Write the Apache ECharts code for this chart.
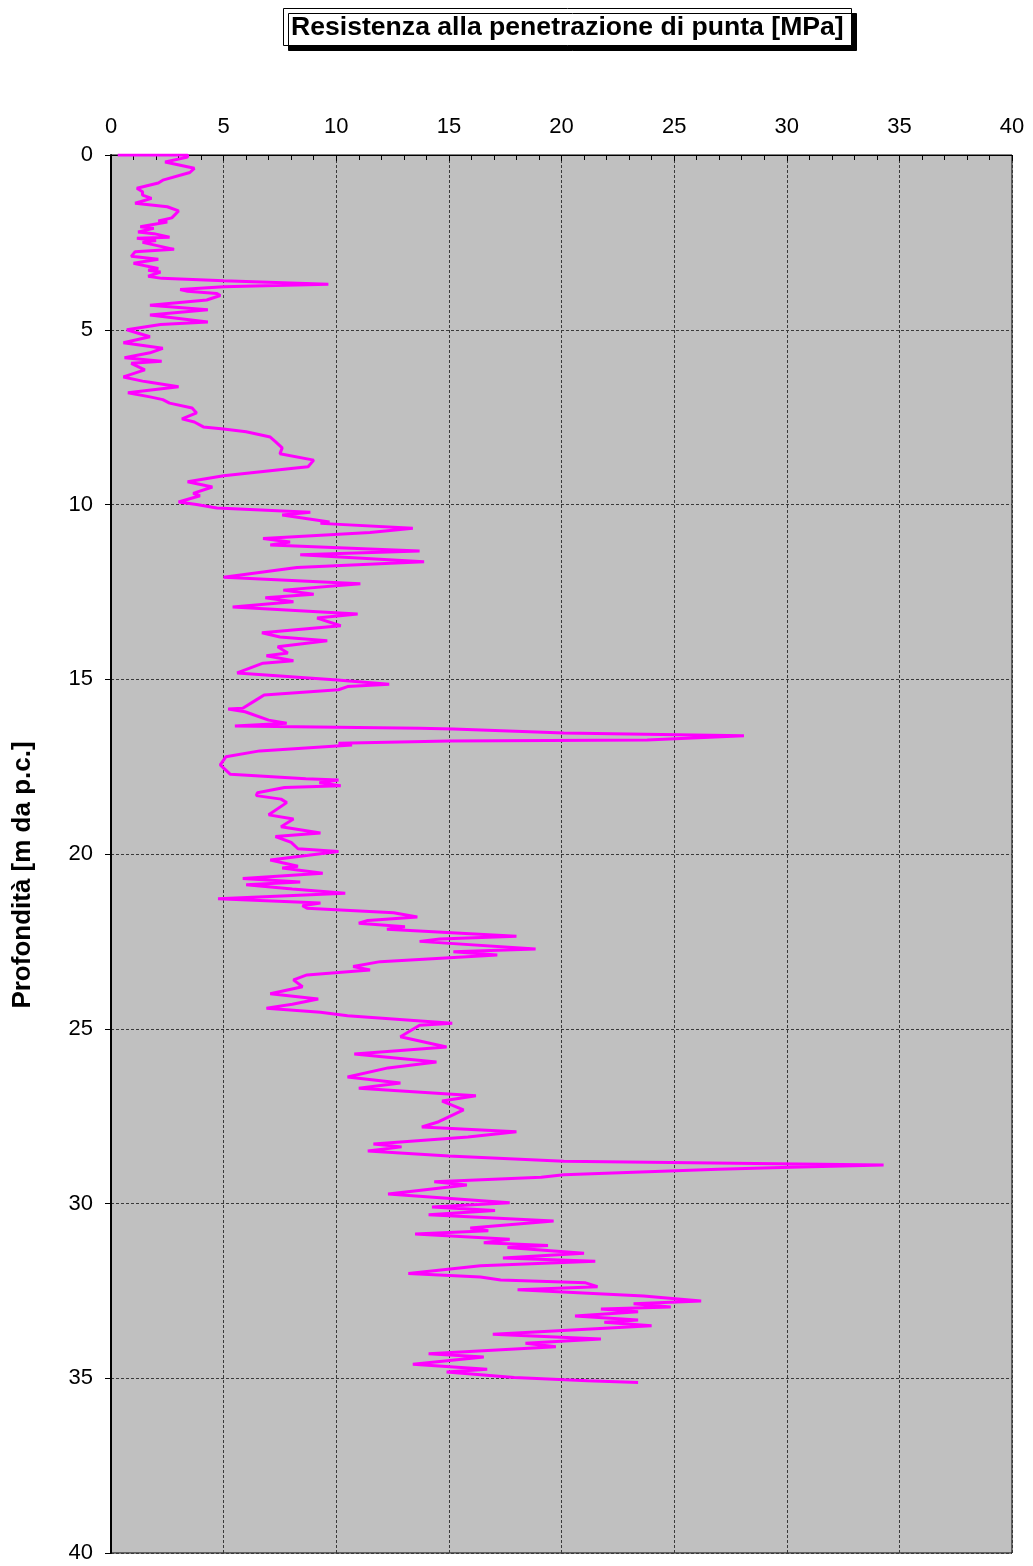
<!DOCTYPE html>
<html>
<head>
<meta charset="utf-8">
<script src="https://cdn.jsdelivr.net/npm/echarts@6/dist/echarts.min.js"></script>
<style>html,body{margin:0;padding:0;background:#fff}#c{width:1033px;height:1566px}</style>
</head>
<body>
<div id="c"></div>
<script>
// Depth [m] and cone tip resistance qc [MPa]
var depth = [0.0,0.0,0.06,0.2,0.38,0.5,0.72,0.8,0.95,1.05,1.15,1.24,1.38,1.48,1.6,1.8,1.89,1.92,2.05,2.1,2.2,2.25,2.35,2.38,2.45,2.5,2.7,2.77,2.9,2.98,3.1,3.25,3.3,3.35,3.47,3.53,3.6,3.7,3.77,3.85,3.9,3.96,4.02,4.15,4.3,4.43,4.58,4.78,4.85,5.0,5.2,5.37,5.53,5.66,5.8,5.9,5.96,6.15,6.35,6.47,6.5,6.63,6.8,6.92,7.0,7.1,7.24,7.38,7.55,7.64,7.78,7.84,7.92,8.07,8.2,8.38,8.55,8.73,8.92,8.96,9.18,9.35,9.5,9.68,9.75,9.93,10.0,10.1,10.22,10.3,10.5,10.54,10.68,10.8,10.97,11.07,11.16,11.33,11.44,11.64,11.8,12.08,12.27,12.45,12.57,12.67,12.78,12.93,13.13,13.25,13.47,13.67,13.79,13.9,14.07,14.25,14.33,14.47,14.54,14.82,15.02,15.14,15.21,15.3,15.45,15.59,15.83,15.85,15.93,16.17,16.26,16.34,16.4,16.42,16.54,16.62,16.74,16.77,16.83,16.88,17.05,17.22,17.45,17.72,17.85,17.88,17.96,18.05,18.1,18.25,18.33,18.43,18.53,18.88,19.0,19.22,19.4,19.5,19.67,19.85,19.93,20.17,20.35,20.4,20.55,20.7,20.8,20.88,21.0,21.12,21.28,21.4,21.48,21.55,21.68,21.8,21.9,21.98,22.08,22.15,22.35,22.43,22.5,22.72,22.8,22.89,23.08,23.22,23.32,23.46,23.6,23.8,24.0,24.15,24.3,24.41,24.53,24.63,24.77,24.84,24.9,25.23,25.52,25.72,25.95,26.12,26.38,26.55,26.7,26.92,27.07,27.32,27.66,27.81,27.95,28.1,28.3,28.38,28.5,28.64,28.79,28.9,28.96,29.02,29.18,29.25,29.38,29.47,29.73,29.98,30.1,30.2,30.32,30.5,30.7,30.78,30.87,31.02,31.12,31.2,31.26,31.42,31.56,31.65,31.78,32.0,32.1,32.19,32.27,32.38,32.47,32.65,32.79,32.87,32.96,33.02,33.1,33.22,33.33,33.4,33.5,33.74,33.88,34.0,34.1,34.3,34.39,34.6,34.74,34.82,34.98,35.07,35.12];
var qc = [0.3,3.4,3.4,2.4,3.7,3.5,2.3,2.1,1.15,1.4,1.4,1.8,1.07,2.5,3.0,2.7,2.1,2.5,1.3,1.9,1.2,1.9,2.6,1.15,2.0,1.4,2.8,1.07,0.9,2.1,1.0,2.1,1.65,2.2,1.65,2.25,5.0,9.65,5.0,3.07,3.4,4.7,4.85,4.25,1.73,4.3,1.73,4.3,2.2,0.7,1.73,0.55,2.3,1.73,0.6,2.25,0.9,1.5,0.55,1.4,1.73,3.0,0.75,1.73,2.3,2.6,3.6,3.8,3.15,3.7,4.1,5.0,6.0,7.07,7.3,7.6,7.5,9.0,8.75,8.1,5.0,3.4,4.5,3.65,3.95,3.0,3.8,4.7,8.85,7.6,9.7,9.3,13.4,11.5,6.75,7.95,7.07,13.7,8.4,13.9,8.25,5.0,11.07,7.65,9.0,6.85,8.1,5.4,10.95,9.15,10.2,6.7,7.5,9.6,7.4,7.85,6.9,8.1,6.75,5.6,10.05,12.35,10.5,10.1,6.8,6.45,5.85,5.2,5.95,7.0,7.8,5.5,13.7,15.2,20.1,28.1,23.8,15.0,10.1,10.7,6.6,5.1,4.85,5.3,8.65,10.1,9.25,10.2,7.7,6.5,6.45,7.55,7.8,7.0,8.1,7.55,9.3,7.3,8.0,8.3,10.1,7.07,8.3,7.6,9.4,5.85,8.4,6.0,8.05,10.4,4.75,9.3,8.5,8.7,12.55,13.6,11.4,11.0,13.05,12.25,18.0,14.6,13.7,18.85,15.2,17.15,11.95,10.75,11.5,8.7,8.1,8.5,7.07,9.2,8.05,6.9,9.3,10.5,13.6,15.15,13.7,12.85,14.9,10.8,14.45,12.3,10.5,12.85,11.0,16.2,14.7,15.65,14.55,13.8,18.0,15.85,11.65,12.9,11.4,15.0,20.1,34.3,30.2,26.95,20.1,19.1,14.35,15.8,12.3,17.7,14.25,17.05,14.1,19.65,15.95,16.75,13.5,17.7,16.55,19.4,17.6,21.0,17.4,21.5,16.4,13.2,16.4,17.3,21.07,21.6,18.05,23.65,26.2,23.2,24.85,21.75,23.4,20.6,23.4,21.9,24.0,16.95,21.75,18.4,19.75,14.1,16.55,13.4,16.7,14.9,17.9,21.15,23.4];
var xTicks = [0,5,10,15,20,25,30,35,40];
var yTicks = [0,5,10,15,20,25,30,35,40];
var titleText = 'Resistenza alla penetrazione di punta [MPa]';
var yName = 'Profondità [m da p.c.]';

var data = depth.map(function (d, i) { return [qc[i], d]; });
var FONT = 'Liberation Sans, Arial, sans-serif';

var chart = echarts.init(document.getElementById('c'), null, {renderer: 'canvas'});
chart.setOption({
  backgroundColor: '#ffffff',
  animation: false,
  title: {
    text: titleText,
    left: 283, top: 8,
    padding: [6, 8, 5, 8],
    backgroundColor: '#ffffff',
    borderColor: '#000000', borderWidth: 1,
    shadowColor: '#000000', shadowBlur: 0, shadowOffsetX: 5, shadowOffsetY: 5,
    textStyle: {fontFamily: FONT, fontWeight: 'bold', fontSize: 26.6, color: '#000'}
  },
  grid: {
    left: 111, top: 155, width: 901, height: 1398,
    show: true, backgroundColor: '#c0c0c0', borderColor: '#000', borderWidth: 1
  },
  xAxis: {
    type: 'value', position: 'top', min: xTicks[0], max: xTicks[xTicks.length - 1], interval: 5,
    axisLine: {show: true, lineStyle: {color: '#000', width: 1}},
    axisTick: {show: true, inside: true, length: 6, lineStyle: {color: '#000'}},
    minorTick: {show: true, splitNumber: 5, length: 5, lineStyle: {color: '#000'}},
    axisLabel: {fontFamily: FONT, fontSize: 22, color: '#000', margin: 17},
    splitLine: {show: true, lineStyle: {color: '#3a3a3a', type: [3, 2], width: 1}}
  },
  yAxis: {
    type: 'value', inverse: true, min: yTicks[0], max: yTicks[yTicks.length - 1], interval: 5,
    axisLine: {show: true, lineStyle: {color: '#000', width: 2}},
    axisTick: {show: true, inside: false, length: 6, lineStyle: {color: '#000'}},
    axisLabel: {fontFamily: FONT, fontSize: 22, color: '#000', margin: 18},
    splitLine: {show: true, lineStyle: {color: '#3a3a3a', type: [3, 2], width: 1}}
  },
  graphic: [{
    type: 'text', x: 23, y: 875, rotation: Math.PI / 2,
    style: {text: yName, fontFamily: FONT, fontWeight: 'bold', fontSize: 26, fill: '#000',
            align: 'center', verticalAlign: 'middle'}
  }],
  series: [{
    type: 'line', data: data, showSymbol: false, symbol: 'none',
    lineStyle: {color: '#ff00ff', width: 3}, z: 5
  }]
});
</script>
</body>
</html>
